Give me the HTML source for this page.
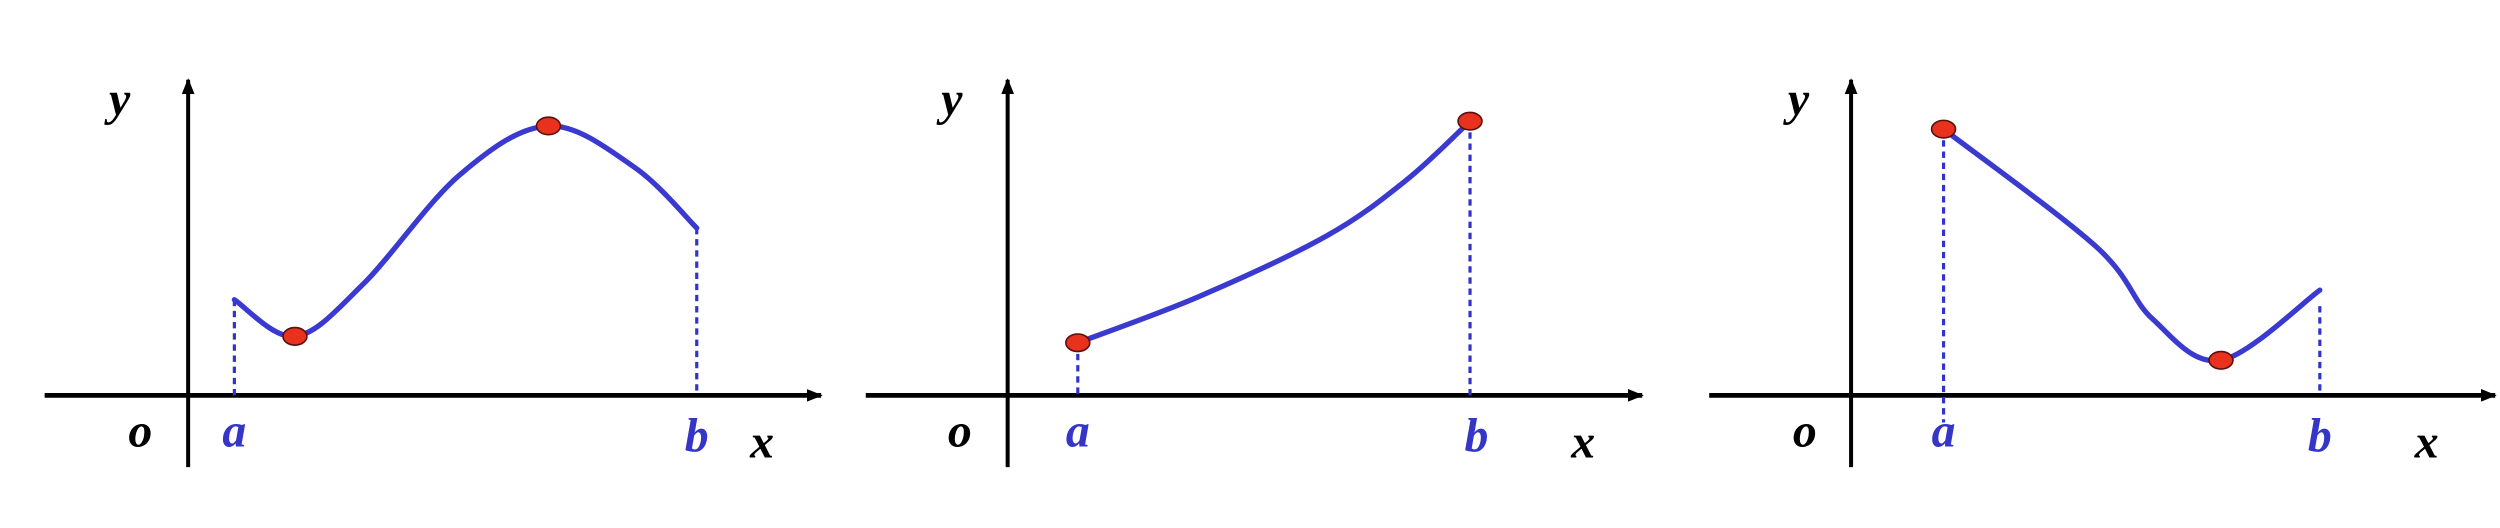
<!DOCTYPE html>
<html><head><meta charset="utf-8"><style>
html,body{margin:0;padding:0;background:#fff;}
svg{display:block;}
text{font-family:"Liberation Serif",serif;font-style:italic;font-weight:bold;}
</style></head><body>
<svg id="chart" width="2500" height="528" viewBox="0 0 1568 331.2" preserveAspectRatio="none" xmlns="http://www.w3.org/2000/svg">
<defs><marker id="arr" markerWidth="10" markerHeight="8" refX="9" refY="4" orient="auto" markerUnits="userSpaceOnUse"><path d="M0,0 L10,4 L0,8 Z" fill="#000"/></marker></defs>
</svg>
<script>
// Panel data: curve values (x offset from origin, height above x-axis)
const p1X=[29,67,110,170,226,280,319];
const p1Y=[60,37,70,138,169,143,105];
const p1Ext=[1,4];
const p2X=[44,120,200,250,290];
const p2Y=[33,62,100,135,172];
const p2Ext=[0,4];
const p3X=[58,154,189,232,294];
const p3Y=[167,93,48,22,66];
const p3Ext=[0,3];
const panelOrigins=[[118,248],[632,248],[1161,248]];
const axisLeft=[28,543,1072];
const axisRight=[515,1030,1565];
const tickA=[147,676,1219];
const tickB=[437,926,1455];
const xLbl=[478,993,1522];
const yLbl=[75,597,1128];
const oLbl=[88,602,1132];
const aDash=[[29,60,0],[44,33,0],[58,167,-17]];
const bDash=[[319,105],[290,172],[294,56]];

const svg=document.getElementById('chart');
const NS='http://www.w3.org/2000/svg';
function mk(tag,attrs,parent){const e=document.createElementNS(NS,tag);for(const k in attrs)e.setAttribute(k,attrs[k]);(parent||svg).appendChild(e);return e;}
function sx(i,v){return panelOrigins[i][0]+v;}
function sy(i,v){return panelOrigins[i][1]-v;}
function smooth(pts){let d='M'+pts[0][0]+','+pts[0][1];for(let i=0;i<pts.length-1;i++){const p0=pts[Math.max(0,i-1)],p1=pts[i],p2=pts[i+1],p3=pts[Math.min(pts.length-1,i+2)];const c1x=p1[0]+(p2[0]-p0[0])/6,c1y=p1[1]+(p2[1]-p0[1])/6,c2x=p2[0]-(p3[0]-p1[0])/6,c2y=p2[1]-(p3[1]-p1[1])/6;d+=' C'+c1x+','+c1y+' '+c2x+','+c2y+' '+p2[0]+','+p2[1];}return d;}
const series=[[p1X,p1Y,p1Ext],[p2X,p2Y,p2Ext],[p3X,p3Y,p3Ext]];
for(let i=0;i<3;i++){
  const g=mk('g',{});
  
  
  const [ox,oy]=panelOrigins[i];
  const xa=mk('line',{x1:axisLeft[i],y1:oy,x2:axisRight[i],y2:oy,stroke:'#000','stroke-width':3,'marker-end':'url(#arr)'},g);
  
  
  const ya=mk('line',{x1:ox,y1:293,x2:ox,y2:50,stroke:'#000','stroke-width':2.5,'marker-end':'url(#arr)'},g);
  
  
  const [X,Y,E]=series[i];
  const ad=aDash[i],bd=bDash[i];
  const da=mk('line',{x1:sx(i,ad[0]),y1:sy(i,ad[1]),x2:sx(i,ad[0]),y2:sy(i,ad[2]),stroke:'#3333cc','stroke-width':2,'stroke-dasharray':'4,3'},g);
  
  
  const db=mk('line',{x1:sx(i,bd[0]),y1:sy(i,bd[1]),x2:sx(i,bd[0]),y2:oy,stroke:'#3333cc','stroke-width':2,'stroke-dasharray':'4,3'},g);
  
  
  const pts=X.map((v,k)=>[sx(i,v),sy(i,Y[k])]);
  const c=mk('path',{d:smooth(pts),fill:'none',stroke:'#3a3ad0','stroke-width':3.3,'stroke-linecap':'round'},g);
  
  
  E.forEach(k=>{const d=mk('ellipse',{cx:pts[k][0],cy:pts[k][1],rx:7.5,ry:5.5,fill:'#e8321e',stroke:'#5a1010','stroke-width':1},g);
    
    });
  const labels=[['y',yLbl[i],72,'#000','y-axis-label'],['o',oLbl[i],280,'#000','origin-label'],['a',tickA[i],280,'#3535c8','a-label'],['b',tickB[i],283,'#3535c8','b-label'],['x',xLbl[i],287,'#000','x-axis-label']];
  labels.forEach(l=>{const t=mk('text',{x:l[1],y:l[2],fill:l[3],'font-size':30,'text-anchor':'middle'},g);t.textContent=l[0];
    
    });
}
</script>
</body></html>
